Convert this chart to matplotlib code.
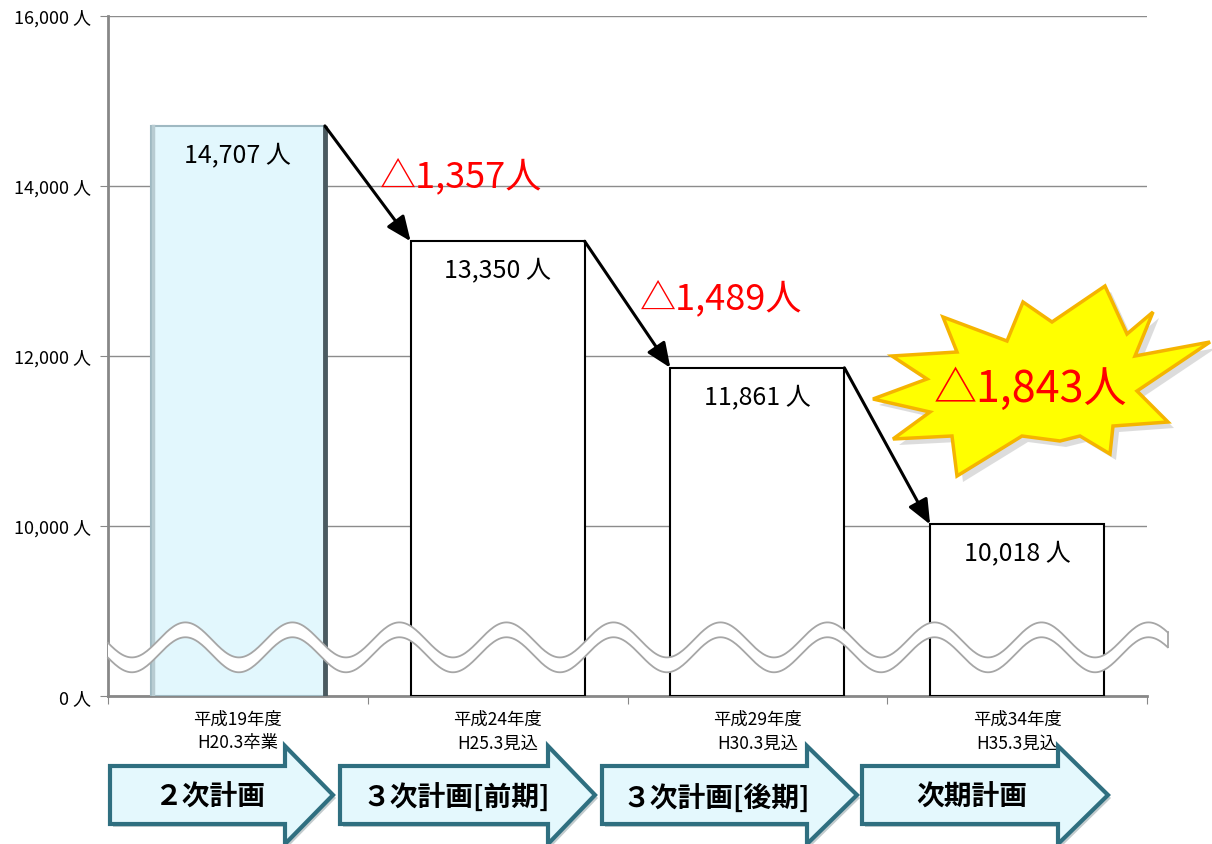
import matplotlib
matplotlib.use('Agg')
import matplotlib.pyplot as plt
import numpy as np
from matplotlib.patches import Polygon

plt.rcParams['font.family'] = ['Noto Sans CJK JP', 'DejaVu Sans']

# data
categories = ['平成19年度\nH20.3卒業', '平成24年度\nH25.3見込',
              '平成29年度\nH30.3見込', '平成34年度\nH35.3見込']
students = [14707, 13350, 11861, 10018]
plan_labels = ['２次計画', '３次計画[前期]', '３次計画[後期]', '次期計画']
ytick_values = [0, 10000, 12000, 14000, 16000]

W, H = 1212, 845
BREAK = 8000  # the axis skips 0..8000


def disp(v):
    v = np.asarray(v, dtype=float)
    return np.where(v > 0, v - BREAK, 0)


def fig_xy(px, py):
    # pixel position in the picture -> figure fraction
    return px / W, 1 - py / H


fig = plt.figure(figsize=(W / 100, H / 100), dpi=100)
ax = fig.add_axes([108 / W, 1 - 697 / H, (1147 - 108) / W, (697 - 17) / H])

x = np.arange(len(students))
w = 0.67
h = disp(students)

# grid + axes look
ax.set_ylim(0, disp(ytick_values[-1]))
ax.set_xlim(-0.5, len(students) - 0.5)
ax.set_yticks(disp(ytick_values))
ax.set_yticklabels([f'{v:,} 人' for v in ytick_values], fontsize=13)
ax.set_xticks(np.arange(len(students) + 1) - 0.5)
ax.set_xticklabels([])
ax.set_xticks(x, minor=True)
ax.set_xticklabels(categories, minor=True, fontsize=12.5, linespacing=1.4)
ax.tick_params(axis='x', which='minor', length=0, pad=10)
ax.tick_params(axis='x', which='major', length=6, color='#888888')
ax.tick_params(axis='y', length=6, color='#888888', pad=6)
ax.yaxis.grid(True, color='#8c8c8c', lw=1)
ax.set_axisbelow(True)
for s in ['top', 'right']:
    ax.spines[s].set_visible(False)
for s in ['left', 'bottom']:
    ax.spines[s].set_color('#888888')
    ax.spines[s].set_linewidth(2)

# bars
faces = ['#e2f7fd', 'white', 'white', 'white']
edges = ['#9fb9c2', 'black', 'black', 'black']
bars = ax.bar(x, h, width=w, color=faces, edgecolor=edges, linewidth=1.5, zorder=3)
b0 = bars[0]
ax.plot([b0.get_x() + b0.get_width()] * 2, [0, b0.get_height()], color='#4a5a60',
        lw=3.5, zorder=4, solid_capstyle='butt')
ax.plot([b0.get_x() + 0.01] * 2, [0, b0.get_height()], color='#b8ccd2', lw=2.5, zorder=4)

for xi, hi, v in zip(x, h, students):
    ax.text(xi, hi - 330, f'{v:,} 人', ha='center', va='center', fontsize=18, zorder=5)

# wave break mark
wx = np.linspace(-0.5, 3.58, 600)
upper = 660 - 206 * np.cos(2 * np.pi * (wx + 0.408) / 0.412)
lower = upper - 175
band = np.column_stack([np.r_[wx, wx[::-1]], np.r_[upper, lower[::-1]]])
ax.add_patch(Polygon(band, closed=True, facecolor='white', edgecolor='none',
                     zorder=6, clip_on=False))
ax.plot(wx, upper, color='#a6a6a6', lw=1.3, zorder=6, clip_on=False)
ax.plot(wx, lower, color='#a6a6a6', lw=1.3, zorder=6, clip_on=False)
ax.plot([wx[-1], wx[-1]], [upper[-1], lower[-1]], color='#a6a6a6', lw=1.3,
        zorder=6, clip_on=False)

# drop arrows between bars
for i in range(len(students) - 1):
    ax.annotate('', xy=(x[i + 1] - w / 2, h[i + 1]), xytext=(x[i] + w / 2, h[i]),
                arrowprops=dict(arrowstyle='-|>,head_length=0.75,head_width=0.32',
                                color='black', lw=2.2, mutation_scale=20,
                                shrinkA=0, shrinkB=0), zorder=7)

# starburst behind the last drop
star_px = [(943, 318), (1007, 342), (1023, 303), (1052, 323), (1105, 287),
           (1127, 335), (1153, 313), (1135, 357), (1210, 343), (1137, 392),
           (1168, 423), (1113, 427), (1110, 455), (1080, 437), (1060, 442),
           (1022, 437), (957, 477), (952, 437), (893, 440), (930, 413),
           (873, 400), (927, 380), (892, 357), (957, 353)]
shadow = [fig_xy(px + 6, py + 6) for px, py in star_px]
ax.add_patch(Polygon(shadow, closed=True, transform=fig.transFigure, facecolor='#bbbbbb',
                     edgecolor='none', alpha=0.5, zorder=7, clip_on=False))
ax.add_patch(Polygon([fig_xy(px, py) for px, py in star_px], closed=True,
                     transform=fig.transFigure, facecolor='#ffff00', edgecolor='#f5b400',
                     lw=2.5, zorder=8, clip_on=False))

# drop labels
drops = -np.diff(students)
delta_xy = [(0.86, 6120), (1.86, 4690), (3.05, 3610)]
delta_size = [26, 26, 31]
for d, (dx, dy), fs in zip(drops, delta_xy, delta_size):
    ax.text(dx, dy, f'△{d:,}人', color='#ff0000', fontsize=fs, ha='center', va='center',
            zorder=9, clip_on=False)

# plan arrows along the bottom
arrow_px = [(110, 285, 333), (340, 548, 595), (602, 807, 857), (862, 1058, 1108)]
for (x0, x1, x2), label in zip(arrow_px, plan_labels):
    pts = [(x0, 767), (x1, 767), (x1, 747), (x2, 796), (x1, 845), (x1, 825), (x0, 825)]
    sh = [fig_xy(px + 3, py + 3) for px, py in pts]
    fig.add_artist(Polygon(sh, closed=True, transform=fig.transFigure, facecolor='#9aa9ad',
                           edgecolor='none', alpha=0.6))
    fig.add_artist(Polygon([fig_xy(px, py) for px, py in pts], closed=True,
                           transform=fig.transFigure, facecolor='#e4f8fd',
                           edgecolor='#2f6f80', lw=3, joinstyle='miter'))
    tx, ty = fig_xy((x0 + x1) / 2 + 12, 798)
    fig.text(tx, ty, label, ha='center', va='center', fontsize=20, fontweight='bold', zorder=5)

fig.savefig('out.png', dpi=100)
